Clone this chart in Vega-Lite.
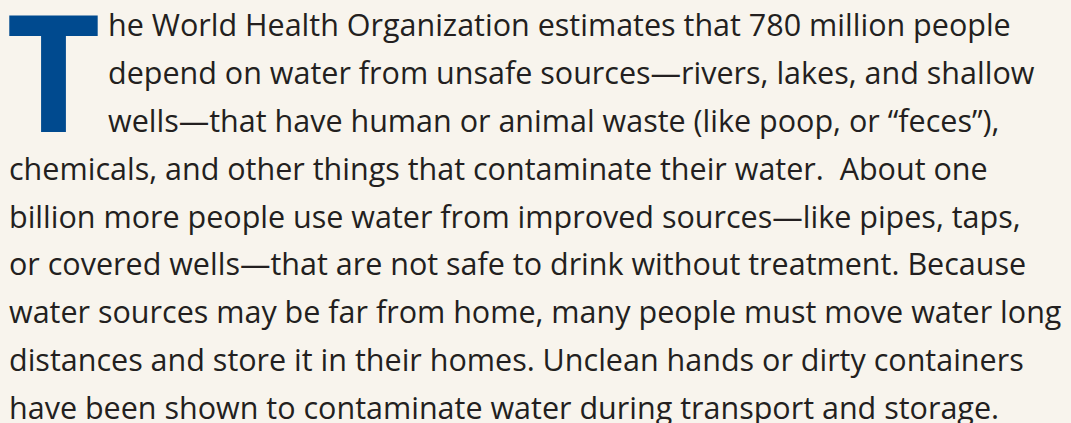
{
  "$schema": "https://vega.github.io/schema/vega-lite/v6.json",
  "width": 1071,
  "height": 423,
  "autosize": {"type": "fit", "contains": "padding"},
  "padding": 0,
  "background": "#f8f4ed",
  "config": {"view": {"stroke": null}},
  "datasets": {
    "initial": [
      {"letter": "T", "start": "margin", "line": 3}
    ],
    "lines": [
      {"line": 1, "start": "indent", "text": "he World Health Organization estimates that 780 million people"},
      {"line": 2, "start": "indent", "text": "depend on water from unsafe sources—rivers, lakes, and shallow"},
      {"line": 3, "start": "indent", "text": "wells—that have human or animal waste (like poop, or “feces”),"},
      {"line": 4, "start": "margin", "text": "chemicals, and other things that contaminate their water.\u00a0 About one"},
      {"line": 5, "start": "margin", "text": "billion more people use water from improved sources—like pipes, taps,"},
      {"line": 6, "start": "margin", "text": "or covered wells—that are not safe to drink without treatment. Because"},
      {"line": 7, "start": "margin", "text": "water sources may be far from home, many people must move water long"},
      {"line": 8, "start": "margin", "text": "distances and store it in their homes. Unclean hands or dirty containers"},
      {"line": 9, "start": "margin", "text": "have been shown to contaminate water during transport and storage."}
    ]
  },
  "layer": [
    {
      "data": {"name": "initial"},
      "mark": {"type": "text", "font": "Open Sans", "fontWeight": "bold", "fontSize": 164, "color": "#004a8f", "align": "left", "baseline": "alphabetic", "dx": -3},
      "encoding": {
        "x": {"field": "start", "type": "nominal", "scale": {"type": "point", "domain": ["margin", "indent"], "range": [9, 108], "padding": 0}, "axis": null},
        "y": {"field": "line", "type": "quantitative", "scale": {"domain": [1, 9], "range": [31, 414], "zero": false, "nice": false}, "axis": null},
        "text": {"field": "letter"}
      }
    },
    {
      "data": {"name": "lines"},
      "mark": {"type": "text", "font": "Open Sans", "fontSize": 30.5, "color": "#231f20", "align": "left", "baseline": "alphabetic"},
      "encoding": {
        "x": {"field": "start", "type": "nominal", "scale": {"type": "point", "domain": ["margin", "indent"], "range": [9, 108], "padding": 0}, "axis": null},
        "y": {"field": "line", "type": "quantitative", "scale": {"domain": [1, 9], "range": [31, 414], "zero": false, "nice": false}, "axis": null},
        "text": {"field": "text"}
      }
    }
  ]
}
